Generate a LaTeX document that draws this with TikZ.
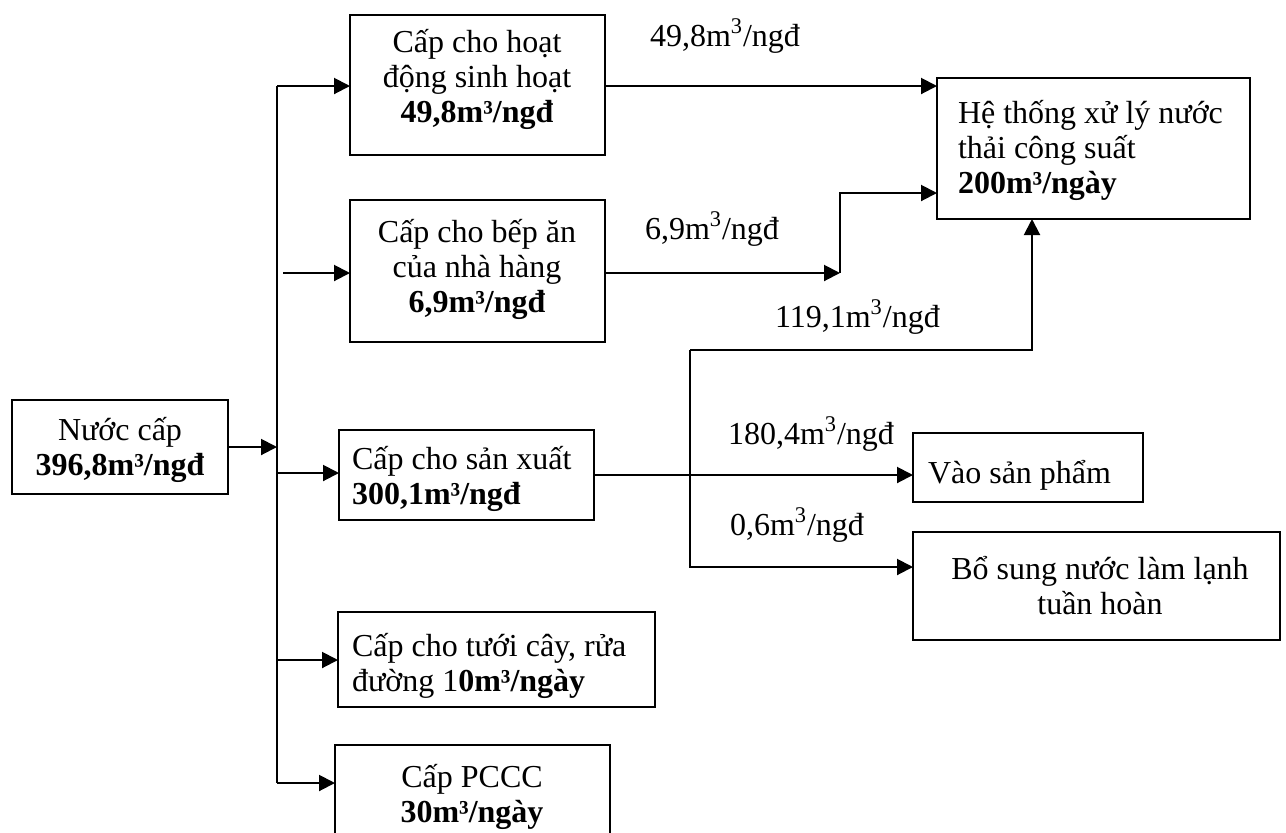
\documentclass[tikz,border=0pt]{standalone}
\usepackage{fontspec}
\setmainfont{Liberation Serif}
\usetikzlibrary{arrows.meta,fit}
\newcommand\mcube{m\textsuperscript{3}}
\tikzset{
  every node/.style={font=\fontsize{16}{17.5}\selectfont, inner sep=0pt, outer sep=0pt},
  box/.style={draw, line width=0.9pt},
  txt/.style={align=center},
  ltxt/.style={align=left, anchor=west},
  flow/.style={anchor=west},
  conn/.style={line width=1pt},
  arr/.style={conn, -{Triangle[length=8pt,width=8pt]}}
}
\begin{document}
\begin{tikzpicture}[x=0.5pt,y=-0.5pt]
\path[use as bounding box] (0,0) rectangle (1286,832);
\clip (0,0) rectangle (1286,832);
% boxes
\node[box, fit={(12,400) (228,494)}] (src) {};
\node[box, fit={(350,15) (605,155)}] (b1) {};
\node[box, fit={(350,200) (605,342)}] (b2) {};
\node[box, fit={(339,430) (594,520)}] (b3) {};
\node[box, fit={(338,612) (655,707)}] (b4) {};
\node[box, fit={(335,745) (610,845)}] (b5) {};
\node[box, fit={(937,78) (1250,219)}] (ht) {};
\node[box, fit={(913,433) (1143,502)}] (vsp) {};
\node[box, fit={(913,532) (1280,640)}] (bs) {};
% texts
\node[txt] (srct) at (120,451) {\strut Nước cấp\\\strut\textbf{396,8m³/ngđ}};
\node[txt] (b1t) at (477,80) {\strut Cấp cho hoạt\\\strut động sinh hoạt\\\strut\textbf{49,8m³/ngđ}};
\node[txt] (b2t) at (477,270) {\strut Cấp cho bếp ăn\\\strut của nhà hàng\\\strut\textbf{6,9m³/ngđ}};
\node[ltxt] (b3t) at (352,480) {\strut Cấp cho sản xuất\\\strut\textbf{300,1m³/ngđ}};
\node[ltxt] (b4t) at (352,667) {\strut Cấp cho tưới cây, rửa\\\strut đường 1\textbf{0m³/ngày}};
\node[txt] (b5t) at (472,798) {\strut Cấp PCCC\\\strut\textbf{30m³/ngày}};
\node[ltxt] (htt) at (958,151) {\strut Hệ thống xử lý nước\\\strut thải công suất\\\strut\textbf{200m³/ngày}};
\node[ltxt] (vspt) at (928,476) {\strut Vào sản phẩm};
\node[txt] (bst) at (1100,590) {\strut Bổ sung nước làm lạnh\\\strut tuần hoàn};
% flow labels
\node[flow] (l1) at (650,38) {\strut 49,8\mcube/ngđ};
\node[flow] (l2) at (645,231) {\strut 6,9\mcube/ngđ};
\node[flow] (l3) at (775,319) {\strut 119,1\mcube/ngđ};
\node[flow] (l4) at (728,436) {\strut 180,4\mcube/ngđ};
\node[flow] (l5) at (730,527) {\strut 0,6\mcube/ngđ};
% coordinates
\coordinate (tr) at (277,447);
\coordinate (ttop) at (277,86);
\coordinate (tbot) at (277,783);
\coordinate (c2) at (283,273);
\coordinate (c3) at (277,473);
\coordinate (c4) at (277,660);
\coordinate (j69) at (840,273);
\coordinate (k) at (840,193);
\coordinate (s1) at (690,350);
\coordinate (s3) at (1032,350);
\coordinate (s4) at (690,567);
% connectors
\draw[arr] (src.east) -- (tr);
\draw[conn] (ttop) -- (tbot);
\draw[arr] (ttop) -- (ttop -| b1.west);
\draw[arr] (c2) -- (c2 -| b2.west);
\draw[arr] (c3) -- (c3 -| b3.west);
\draw[arr] (c4) -- (c4 -| b4.west);
\draw[arr] (tbot) -- (tbot -| b5.west);
\draw[arr] (b1.east |- ttop) -- (ttop -| ht.west);
\draw[arr] (b2.east |- c2) -- (j69);
\draw[arr] (j69) -- (k) -- (k -| ht.west);
\draw[arr] (b3.east) -- (b3.east -| vsp.west);
\draw[arr] (s1) -- (s3) -- (s3 |- ht.south);
\draw[arr] (s1) -- (s4) -- (s4 -| bs.west);
\end{tikzpicture}
\end{document}
